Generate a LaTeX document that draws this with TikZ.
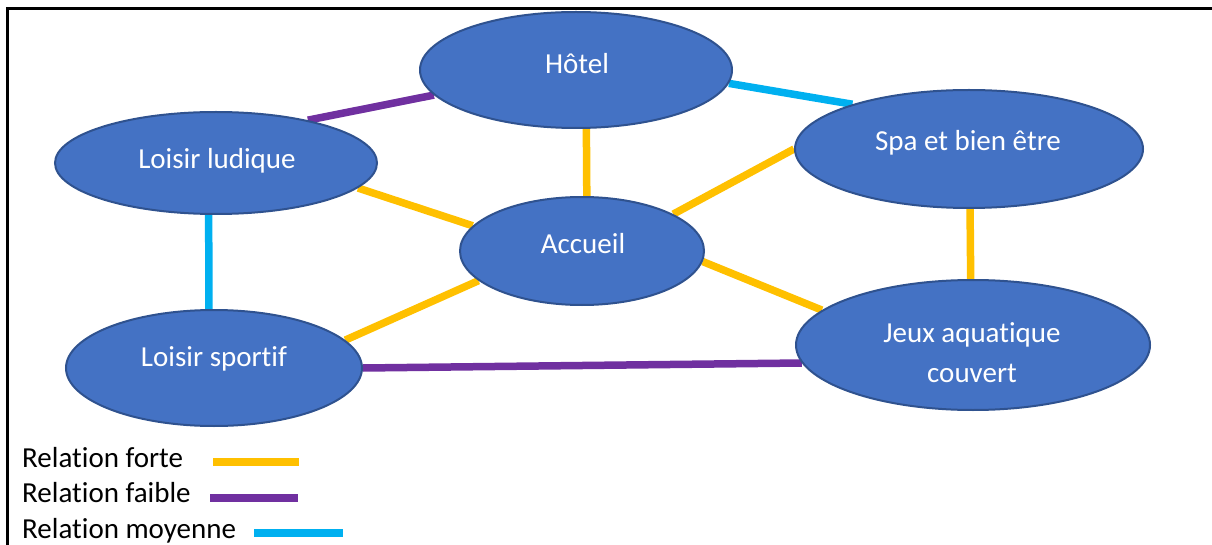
\documentclass[tikz,border=0pt]{standalone}
\usepackage{fontspec}
\setmainfont[Ligatures={NoCommon}]{Carlito}
\usetikzlibrary{shapes.geometric,backgrounds}
\definecolor{nodeblue}{HTML}{4472C4}
\definecolor{nodeedge}{HTML}{2F528F}
\definecolor{forte}{HTML}{FFC000}
\definecolor{faible}{HTML}{7030A0}
\definecolor{moyenne}{HTML}{00B0F0}
\begin{document}
\begin{tikzpicture}[x=1pt,y=-1pt,
  bubble/.style={ellipse,draw=nodeedge,line width=2pt,fill=nodeblue,inner sep=0pt},
  lbl/.style={text=white,font=\fontsize{29}{36}\selectfont,anchor=base,inner sep=0pt},
  leg/.style={text=black,font=\fontsize{29}{36}\selectfont,anchor=base west,inner sep=0pt},
  rel/.style={line width=7.5pt},
  relforte/.style={rel,draw=forte},
  relfaible/.style={rel,draw=faible},
  relmoyenne/.style={rel,draw=moyenne}]
\useasboundingbox (0,0) rectangle (1212,545);
\clip (0,0) rectangle (1212,545);
% frame
\draw[line width=3pt] (1212,9) -- (7,9) -- (7,545);
% nodes
\node[bubble,minimum width=312pt,minimum height=116pt] (hotel) at (576,70) {};
\node[bubble,minimum width=322pt,minimum height=102pt] (ludique) at (216,163) {};
\node[bubble,minimum width=348pt,minimum height=118pt] (spa) at (969,149) {};
\node[bubble,minimum width=244pt,minimum height=108pt] (accueil) at (582,251) {};
\node[bubble,minimum width=296pt,minimum height=116pt] (sportif) at (214,368) {};
\node[bubble,minimum width=354pt,minimum height=130pt] (jeux) at (973,345) {};
% labels
\node[lbl] (hotel-t) at (577,74) {Hôtel};
\node[lbl] (ludique-t) at (217,169) {Loisir ludique};
\node[lbl] (spa-t) at (968,151) {Spa et bien être};
\node[lbl] (accueil-t) at (583,254) {Accueil};
\node[lbl] (sportif-t) at (214,366) {Loisir sportif};
\node[lbl] (jeux-t1) at (972,342) {Jeux aquatique};
\node[lbl] (jeux-t2) at (972,382) {couvert};
% connectors
\begin{scope}[on background layer]
\draw[relfaible] (hotel.190.5) -- (ludique.25);
\draw[relmoyenne] (hotel.355.5) -- (spa.159.7);
\draw[relforte] (hotel.280) -- (accueil.85.8);
\draw[relforte] (ludique.350.5) -- (accueil.167.5);
\draw[relforte] (spa.180.3) -- (accueil.22.2);
\draw[relforte] (spa.271.5) -- (jeux.92);
\draw[relforte] (accueil.355.8) -- (jeux.167.8);
\draw[relforte] (accueil.196.6) -- (sportif.12);
\draw[relmoyenne] (ludique.262.3) -- (sportif.95);
\draw[relfaible] (sportif.0.4) -- (jeux.186);
\end{scope}
% legend
\node[leg] (leg-forte) at (22,467) {Relation forte};
\node[leg] (leg-faible) at (22,502) {Relation faible};
\node[leg] (leg-moyenne) at (22,538) {Relation moyenne};
\coordinate (lf1) at (213,462); \coordinate (lf2) at (299,462);
\coordinate (lb1) at (210,498); \coordinate (lb2) at (298,498);
\coordinate (lm1) at (254,533); \coordinate (lm2) at (343,533);
\draw[relforte] (lf1) -- (lf2);
\draw[relfaible] (lb1) -- (lb2);
\draw[relmoyenne] (lm1) -- (lm2);
\end{tikzpicture}
\end{document}
